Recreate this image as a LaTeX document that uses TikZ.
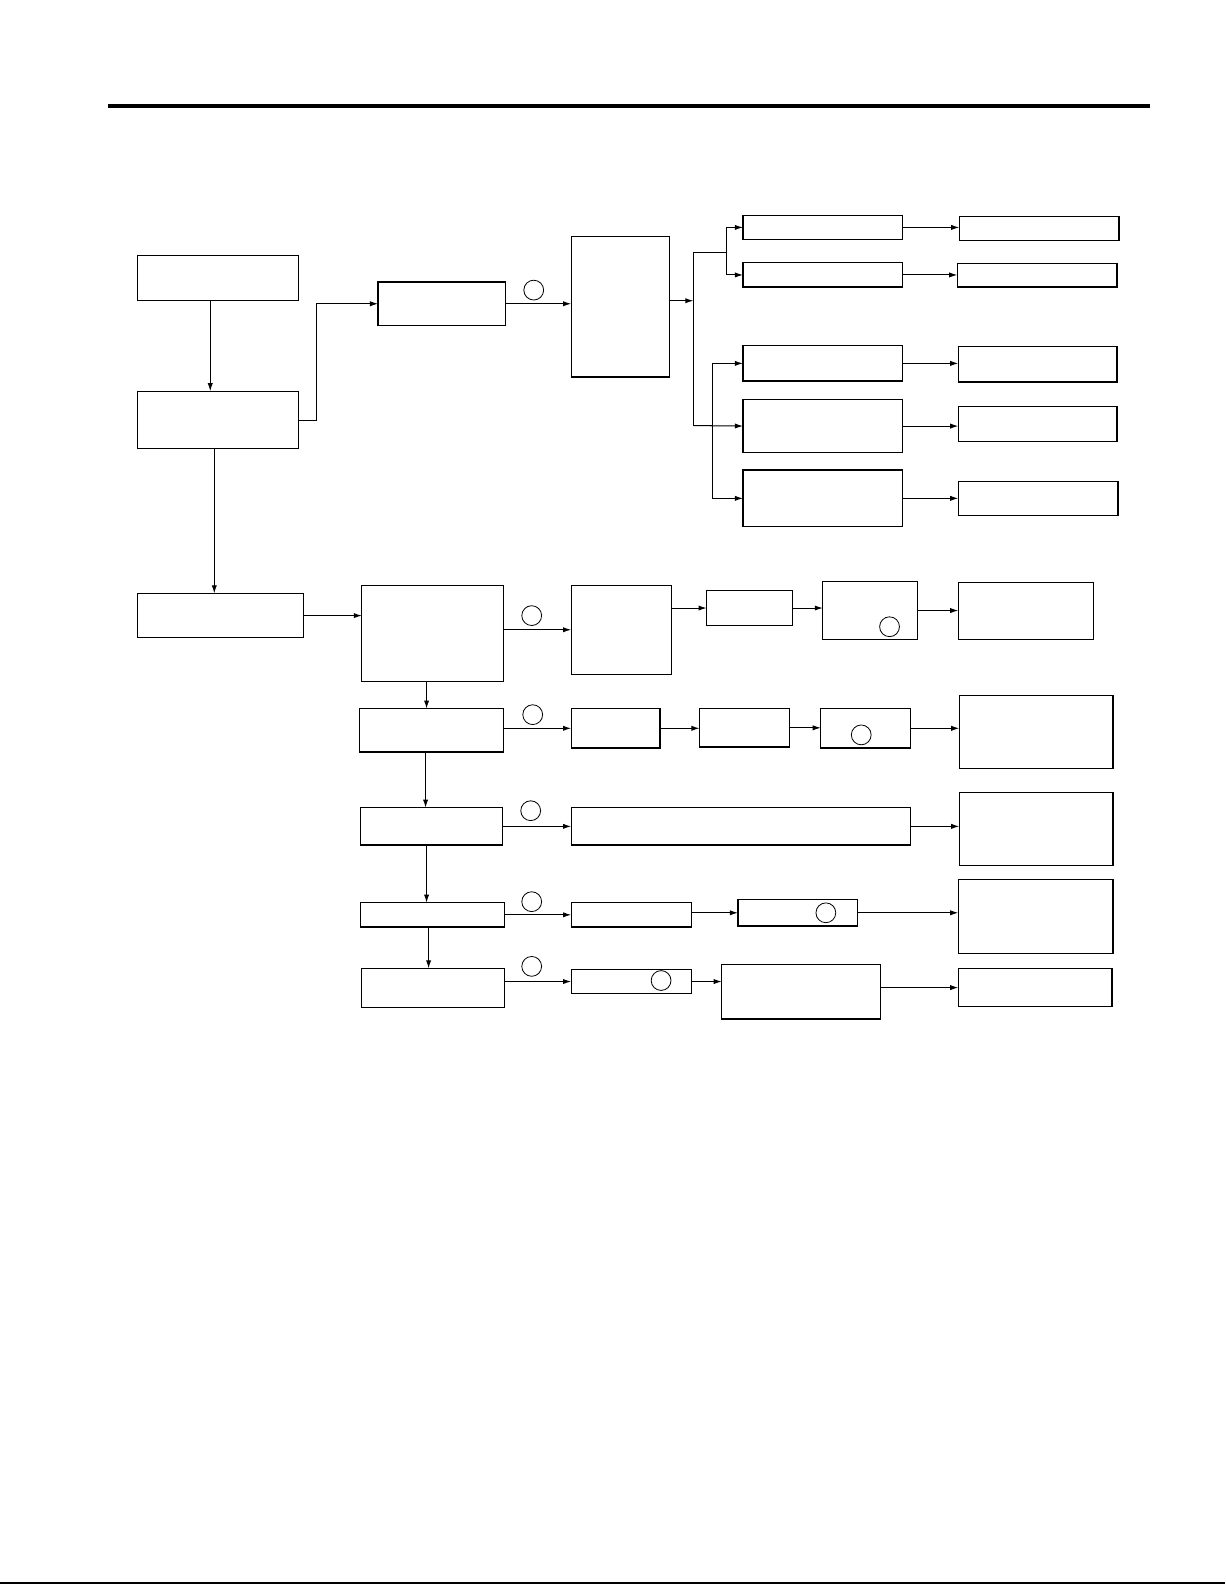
\documentclass[tikz,border=0pt]{standalone}
\usetikzlibrary{arrows.meta}

\tikzset{
	blk/.style={draw, line width=0.6pt, inner sep=0pt, outer sep=0pt},
	ring/.style={draw, circle, minimum size=9.8pt, inner sep=0pt, line width=0.4pt},
	arr/.style={-{Latex[length=4pt,width=2.6pt]}, line width=0.5pt}
}

\begin{document}
\begin{tikzpicture}[x=0.5pt, y=-0.5pt]
	\useasboundingbox (0,0) rectangle (1212,1568);
	
	\draw[line width=2pt] (107,105) -- (1138,105);
	\draw[line width=0.8pt] (0,1566) -- (1212,1566);
	
	% left column
	\node[blk, minimum width=79.5pt, minimum height=22pt] (a) at (215.5,275) {};
	\node[blk, minimum width=79.5pt, minimum height=28.5pt] (b) at (215.5,415.5) {};
	\node[blk, minimum width=82pt, minimum height=22pt] (c) at (218,609) {};
	
	% upper branch
	\node[blk, minimum width=63pt, minimum height=21.5pt] (d) at (437,300.5) {};
	\node[blk, minimum width=48.5pt, minimum height=69.5pt] (e) at (613.5,303.5) {};
	\node[ring] (rd) at (528,287) {};
	
	\node[blk, minimum width=79pt, minimum height=12pt] (f1) at (814,225) {};
	\node[blk, minimum width=79pt, minimum height=12pt] (f2) at (814,272) {};
	\node[blk, minimum width=79pt, minimum height=17.5pt] (f3) at (814,359.5) {};
	\node[blk, minimum width=79pt, minimum height=26.5pt] (f4) at (814,421.5) {};
	\node[blk, minimum width=79pt, minimum height=28pt] (f5) at (814,493) {};
	
	\node[blk, minimum width=79pt, minimum height=12pt] (g1) at (1028,226) {};
	\node[blk, minimum width=79pt, minimum height=11.5pt] (g2) at (1026,272.5) {};
	\node[blk, minimum width=78.5pt, minimum height=17.5pt] (g3) at (1026.5,360.5) {};
	\node[blk, minimum width=78.5pt, minimum height=17.5pt] (g4) at (1026.5,419.5) {};
	\node[blk, minimum width=79pt, minimum height=17pt] (g5) at (1027,493) {};
	
	% lower branch
	\node[blk, minimum width=70pt, minimum height=47.5pt] (h1) at (428,626.5) {};
	\node[blk, minimum width=71pt, minimum height=21.5pt] (h2) at (427,722.5) {};
	\node[blk, minimum width=70pt, minimum height=18.5pt] (h3) at (427,817.5) {};
	\node[blk, minimum width=71pt, minimum height=12pt] (h4) at (428,905) {};
	\node[blk, minimum width=70.5pt, minimum height=19.5pt] (h5) at (428.5,977.5) {};
	
	\node[blk, minimum width=49.5pt, minimum height=44pt] (i1) at (614.5,623) {};
	\node[blk, minimum width=42.5pt, minimum height=17.5pt] (j1) at (741.5,601.5) {};
	\node[blk, minimum width=47pt, minimum height=29pt] (k1) at (861,604) {};
	\node[blk, minimum width=67pt, minimum height=28.5pt] (l1) at (1015,604.5) {};
	
	\node[blk, minimum width=44pt, minimum height=19.5pt] (i2) at (609,720.5) {};
	\node[blk, minimum width=44.5pt, minimum height=19pt] (j2) at (736.5,720) {};
	\node[blk, minimum width=44.5pt, minimum height=19.5pt] (k2) at (856.5,720.5) {};
	\node[blk, minimum width=76pt, minimum height=36pt] (l2) at (1025,724) {};
	
	\node[blk, minimum width=168pt, minimum height=18.5pt] (i3) at (733,817.5) {};
	\node[blk, minimum width=76pt, minimum height=36pt] (l3) at (1025,820) {};
	
	\node[blk, minimum width=59.5pt, minimum height=12pt] (i4) at (624.5,905) {};
	\node[blk, minimum width=59pt, minimum height=13pt] (k4) at (789,903) {};
	\node[blk, minimum width=76.5pt, minimum height=36.5pt] (l4) at (1024.5,906.5) {};
	
	\node[blk, minimum width=59.5pt, minimum height=12pt] (i5) at (624.5,971) {};
	\node[blk, minimum width=78.5pt, minimum height=27pt] (k5) at (792.5,981) {};
	\node[blk, minimum width=76pt, minimum height=19pt] (l5) at (1024,977) {};
	
	\node[ring] (r1) at (526,609) {};
	\node[ring] (r2) at (527,707) {};
	\node[ring] (r3) at (525,802) {};
	\node[ring] (r4) at (526,892) {};
	\node[ring] (r5) at (526,956) {};
	\node[ring] (rk1) at (880,620) {};
	\node[ring] (rk2) at (852,727) {};
	\node[ring] (rk4) at (817,903) {};
	\node[ring] (ri5) at (654,970) {};
	
	\coordinate (busa) at (686,250);
	\coordinate (busb) at (686,421);
	\coordinate (busc) at (719,250);
	\coordinate (busd) at (705,421);
	
	% connectors, left and upper
	\draw[arr] ([xshift=-3.75pt]a.south) -- ([xshift=-3.75pt]a.south |- b.north);
	\draw[arr] ([xshift=-1.75pt]b.south) -- ([xshift=-1.75pt]b.south |- c.north);
	\draw[arr] (b.east) -- ++(18,0) |- (d.west);
	\draw[arr] (d.east) -- (d.east -| e.west);
	\draw[arr] ([yshift=3pt]e.east) -- ([yshift=3pt]e.east -| busa);
	\draw[line width=0.5pt] (busa) -- (busb);
	\draw[line width=0.5pt] (busa) -- (busc);
	\draw[arr] (busc) |- (f1.west);
	\draw[arr] (busc) |- (f2.west);
	\draw[arr] (busb) -- (f4.west);
	\draw[arr] (busd) |- (f3.west);
	\draw[arr] (busd) |- (f5.west);
	\foreach \n in {1,...,5}
		\draw[arr] (f\n.east) -- (f\n.east -| g\n.west);
	
	% connectors, lower
	\draw[arr] (c.east) -- (c.east -| h1.west);
	\draw[arr] ([xshift=-3pt]h1.south) -- ([xshift=-3pt]h1.south |- h2.north);
	\draw[arr] ([xshift=-3pt]h2.south) -- ([xshift=-3pt]h2.south |- h3.north);
	\draw[arr] ([xshift=-2.5pt]h3.south) -- ([xshift=-2.5pt]h3.south |- h4.north);
	\draw[arr] ([xshift=-2pt]h4.south) -- ([xshift=-2pt]h4.south |- h5.north);
	
	\draw[arr] (h1.east |- i1) -- (i1.west);
	\draw[arr] (i1.east |- j1) -- (j1.west);
	\draw[arr] (j1.east) -- (j1.east -| k1.west);
	\draw[arr] (k1.east) -- (k1.east -| l1.west);
	
	\draw[arr] (h2.east |- i2) -- (i2.west);
	\draw[arr] (i2.east) -- (i2.east -| j2.west);
	\draw[arr] (j2.east) -- (j2.east -| k2.west);
	\draw[arr] (k2.east) -- (k2.east -| l2.west);
	
	\draw[arr] (h3.east) -- (h3.east -| i3.west);
	\draw[arr] (i3.east) -- (i3.east -| l3.west);
	
	\draw[arr] (h4.east) -- (h4.east -| i4.west);
	\draw[arr] (i4.east |- k4) -- (k4.west);
	\draw[arr] (k4.east) -- (k4.east -| l4.west);
	
	\draw[arr] (h5.east |- i5) -- (i5.west);
	\draw[arr] (i5.east) -- (i5.east -| k5.west);
	\draw[arr] (k5.east |- l5) -- (l5.west);
\end{tikzpicture}
\end{document}
